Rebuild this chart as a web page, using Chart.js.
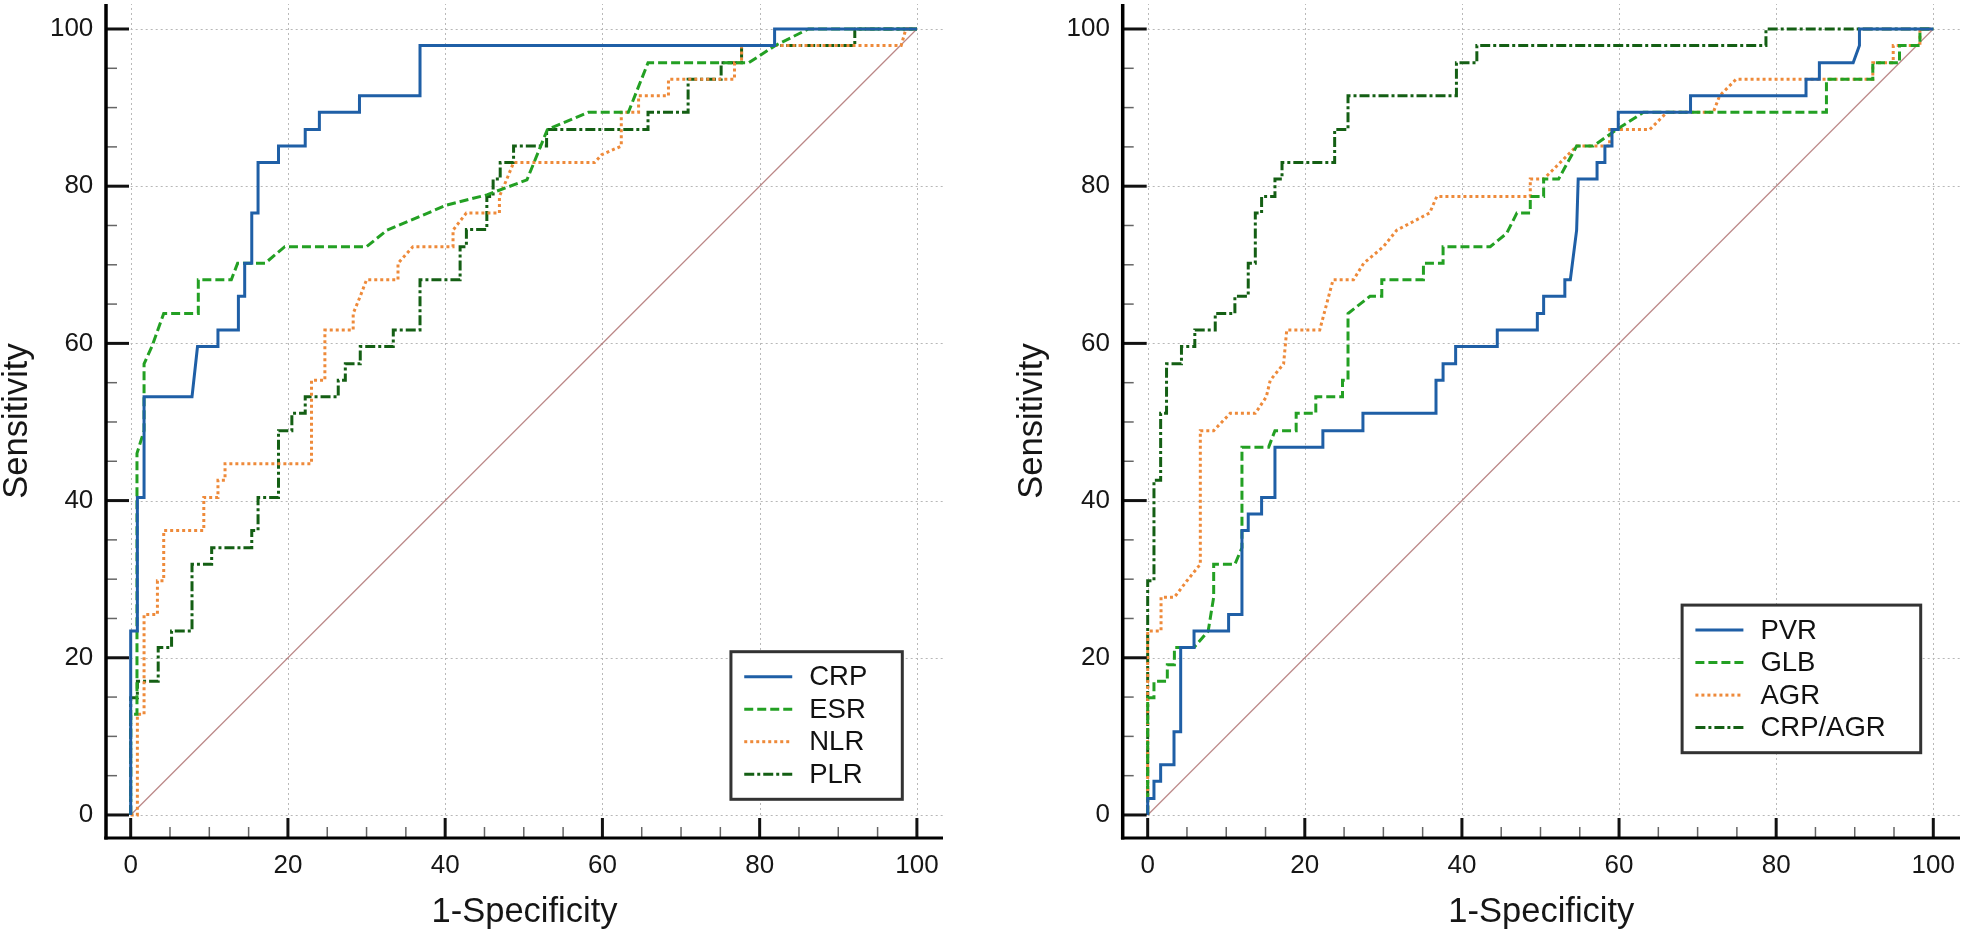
<!DOCTYPE html>
<html><head><meta charset="utf-8">
<script src="https://cdn.jsdelivr.net/npm/chart.js@4.4.1/dist/chart.umd.min.js"></script>
<style>
html,body{margin:0;padding:0;background:#fff;}
body{width:1962px;height:934px;position:relative;overflow:hidden;}
canvas{position:absolute;top:0;}
#c1{left:0;} #c2{left:981px;}
</style></head><body>
<canvas id="c1" width="981" height="934"></canvas>
<canvas id="c2" width="981" height="934"></canvas>
<script>
// ---------- data ----------
const tickValues = [0, 20, 40, 60, 80, 100];
const xTitle = '1-Specificity';
const yTitle = 'Sensitivity';
const labelsLeft = ['CRP', 'ESR', 'NLR', 'PLR'];
const labelsRight = ['PVR', 'GLB', 'AGR', 'CRP/AGR'];
const DIAG = [[0,0],[100,100]];

const CRP = [[0,0],[0,23.4],[0.85,23.4],[0.85,40.4],[1.7,40.4],[1.7,53.2],[7.8,53.2],[8.5,59.6],[11.1,59.6],[11.1,61.7],[13.7,61.7],[13.7,66.0],[14.5,66.0],[14.5,70.2],[15.4,70.2],[15.4,76.6],[16.2,76.6],[16.2,83.0],[18.8,83.0],[18.8,85.1],[22.2,85.1],[22.2,87.2],[24.0,87.2],[24.0,89.4],[29.1,89.4],[29.1,91.5],[36.8,91.5],[36.8,97.9],[81.9,97.9],[81.9,100],[100,100]];
const ESR = [[0,0],[0,12.8],[0.8,12.8],[0.8,46.0],[1.7,48.9],[1.7,57.4],[2.7,59.6],[4.2,63.8],[8.6,63.8],[8.6,68.1],[12.8,68.1],[13.6,70.2],[17.1,70.2],[19.6,72.3],[30.0,72.3],[32.6,74.4],[40.2,77.6],[45.3,78.9],[50.4,80.8],[53.0,87.2],[58.2,89.4],[63.3,89.4],[65.8,95.7],[78.6,95.7],[82.0,97.9],[86.2,100],[100,100]];
const NLR = [[0,0],[0.85,0],[0.85,12.8],[1.7,12.8],[1.7,25.5],[3.4,25.5],[3.4,29.8],[4.2,29.8],[4.2,36.2],[9.3,36.2],[9.3,40.4],[11.1,40.4],[11.1,42.6],[12.0,42.6],[12.0,44.7],[23.0,44.7],[23.0,55.3],[24.7,55.3],[24.7,61.7],[28.3,61.7],[28.3,63.8],[29.2,66.0],[30.0,68.1],[34.0,68.1],[34.0,70.2],[35.9,72.3],[41.0,72.3],[41.0,74.4],[42.7,76.6],[46.9,76.6],[46.9,78.7],[47.8,80.8],[48.7,83.0],[59.0,83.0],[59.9,84.0],[62.4,85.1],[62.4,89.4],[64.6,89.4],[64.6,91.5],[68.4,91.5],[68.4,93.6],[76.8,93.6],[76.8,95.7],[77.7,95.7],[77.7,97.9],[98.0,97.9],[98.6,100],[100,100]];
const PLR = [[0,0],[0,14.9],[0.85,14.9],[0.85,17.0],[3.5,17.0],[3.5,21.3],[5.2,21.3],[5.2,23.4],[7.8,23.4],[7.8,31.9],[10.3,31.9],[10.3,34.0],[15.4,34.0],[15.4,36.2],[16.2,36.2],[16.2,40.4],[18.8,40.4],[18.8,48.9],[20.5,48.9],[20.5,51.1],[22.2,51.1],[22.2,53.2],[26.4,53.2],[26.4,55.3],[27.3,55.3],[27.3,57.4],[29.2,57.4],[29.2,59.6],[33.4,59.6],[33.4,61.7],[36.8,61.7],[36.8,68.1],[41.9,68.1],[41.9,72.3],[42.7,72.3],[42.7,74.5],[45.3,74.5],[45.3,78.7],[46.1,78.7],[46.1,80.9],[47.0,80.9],[47.0,83.0],[48.7,83.0],[48.7,85.1],[52.9,85.1],[52.9,87.2],[65.8,87.2],[65.8,89.4],[70.9,89.4],[70.9,93.6],[75.1,93.6],[75.1,95.7],[77.7,95.7],[77.7,97.9],[92.1,97.9],[92.1,100],[100,100]];

const PVR = [[0,0],[0,2.1],[0.8,2.1],[0.8,4.3],[1.65,4.3],[1.65,6.4],[3.35,6.4],[3.35,10.6],[4.2,10.6],[4.2,21.3],[5.9,21.3],[5.9,23.4],[10.3,23.4],[10.3,25.5],[12.0,25.5],[12.0,36.2],[12.8,36.2],[12.8,38.3],[14.5,38.3],[14.5,40.4],[16.2,40.4],[16.2,46.8],[22.3,46.8],[22.3,48.9],[27.4,48.9],[27.4,51.1],[36.7,51.1],[36.7,55.3],[37.6,55.3],[37.6,57.4],[39.2,57.4],[39.2,59.6],[44.5,59.6],[44.5,61.7],[49.6,61.7],[49.6,63.8],[50.4,63.8],[50.4,66.0],[53.1,66.0],[53.1,68.1],[53.8,68.1],[54.6,74.4],[54.8,80.9],[57.2,80.9],[57.2,83.0],[58.2,83.0],[58.2,85.1],[59.1,85.1],[59.1,87.2],[59.9,87.2],[59.9,89.4],[69.1,89.4],[69.1,91.5],[83.8,91.5],[83.8,93.6],[85.5,93.6],[85.5,95.7],[89.8,95.7],[90.6,97.9],[90.6,100],[100,100]];
const GLB = [[0,0],[0,14.9],[0.8,14.9],[0.8,17.0],[2.5,17.0],[2.5,19.1],[3.4,19.1],[3.4,21.3],[5.9,21.3],[7.7,23.4],[8.4,27.7],[8.4,31.9],[11.1,31.9],[12.0,34.0],[12.0,46.8],[15.4,46.8],[16.2,48.9],[18.9,48.9],[18.9,51.1],[21.4,51.1],[21.4,53.2],[24.8,53.2],[24.8,55.3],[25.5,55.3],[25.5,63.8],[28.3,66.0],[29.8,66.0],[29.8,68.1],[35.1,68.1],[35.1,70.2],[37.6,70.2],[37.6,72.3],[43.6,72.3],[45.7,74.0],[47.0,76.6],[48.7,76.6],[48.7,78.7],[50.4,78.7],[50.4,80.9],[52.3,80.9],[54.6,85.1],[56.7,85.1],[59.7,87.2],[63.1,89.4],[86.4,89.4],[86.4,93.6],[92.3,93.6],[92.3,95.7],[95.7,95.7],[95.7,97.9],[98.3,97.9],[98.3,100],[100,100]];
const AGR = [[0,0],[0,23.4],[1.7,23.4],[1.7,27.7],[3.4,27.7],[5.0,29.8],[6.7,31.9],[6.7,48.9],[8.4,48.9],[10.5,51.1],[13.7,51.1],[15.1,53.2],[15.6,55.3],[17.3,57.4],[17.7,61.7],[21.9,61.7],[23.6,68.1],[26.2,68.1],[27.5,70.2],[30.0,72.3],[31.7,74.4],[35.9,76.6],[36.8,78.7],[48.7,78.7],[48.7,80.9],[50.4,80.9],[54.6,85.1],[58.8,85.1],[58.8,87.2],[63.9,87.2],[66.1,89.4],[72.0,89.4],[72.8,91.5],[74.9,93.6],[92.3,93.6],[92.3,95.7],[94.9,95.7],[94.9,97.9],[98.3,97.9],[98.3,100],[100,100]];
const CRPAGR = [[0,0],[0,29.8],[0.8,29.8],[0.8,42.6],[1.65,42.6],[1.65,51.1],[2.4,51.1],[2.4,57.4],[4.3,57.4],[4.3,59.6],[6.0,59.6],[6.0,61.7],[8.6,61.7],[8.6,63.8],[11.1,63.8],[11.1,66.0],[12.8,66.0],[12.8,70.2],[13.7,70.2],[13.7,76.6],[14.5,76.6],[14.5,78.7],[16.2,78.7],[16.2,80.9],[17.1,80.9],[17.1,83.0],[23.8,83.0],[23.8,87.2],[25.5,87.2],[25.5,91.5],[39.3,91.5],[39.3,95.7],[41.9,95.7],[41.9,97.9],[78.7,97.9],[78.7,100],[100,100]];

// ---------- styles ----------
const FONT = '"Liberation Sans", Arial, Helvetica, sans-serif';
const STYLES = [
  {color: '#1f5fa6', dash: []},
  {color: '#23a023', dash: [9, 4]},
  {color: '#ee8a3a', dash: [3, 3]},
  {color: '#145f14', dash: [10, 3, 3, 3]}
];
const DIAG_COLOR = 'rgba(170,105,105,0.8)';

const framePlugin = {
  id: 'frame',
  beforeDatasetsDraw(chart) {
    const {ctx, chartArea: a, scales: {x, y}} = chart;
    const x0 = x.getPixelForValue(0), y0 = y.getPixelForValue(0);
    ctx.save();
    ctx.strokeStyle = '#b8b8b8'; ctx.lineWidth = 1; ctx.setLineDash([2, 3]);
    tickValues.forEach(v => {
      const px = Math.round(x.getPixelForValue(v)) + 0.5;
      ctx.beginPath(); ctx.moveTo(px, y0); ctx.lineTo(px, a.top); ctx.stroke();
      const py = Math.round(y.getPixelForValue(v)) + 0.5;
      ctx.beginPath(); ctx.moveTo(x0, py); ctx.lineTo(a.right, py); ctx.stroke();
    });
    ctx.restore();
  },
  afterDatasetsDraw(chart, args, opts) {
    const {ctx, chartArea: a, scales: {x, y}} = chart;
    ctx.save();
    ctx.setLineDash([]);
    // minor + major ticks
    for (let v = 0; v <= 100; v += 5) {
      const major = v % 20 === 0;
      ctx.strokeStyle = major ? '#111' : '#666';
      ctx.lineWidth = major ? 3 : 1.5;
      const py = y.getPixelForValue(v);
      ctx.beginPath(); ctx.moveTo(a.left, py); ctx.lineTo(a.left + (major ? opts.yMajor : 11), py); ctx.stroke();
      const px = x.getPixelForValue(v);
      ctx.beginPath(); ctx.moveTo(px, a.bottom); ctx.lineTo(px, a.bottom - (major ? 20 : 11)); ctx.stroke();
    }
    // axis lines
    ctx.strokeStyle = '#000';
    ctx.lineWidth = 3.5;
    ctx.beginPath(); ctx.moveTo(a.left, a.top); ctx.lineTo(a.left, a.bottom + 1.5); ctx.stroke();
    ctx.lineWidth = 3;
    ctx.beginPath(); ctx.moveTo(a.left - 1.75, a.bottom); ctx.lineTo(a.right, a.bottom); ctx.stroke();
    // legend box
    const items = chart.data.datasets.filter(d => !d.isRef);
    ctx.font = '27.5px ' + FONT;
    const tw = Math.max(...items.map(d => ctx.measureText(d.label).width));
    const w = 13.3 + 48 + 17 + tw + 35, h = 147.6;
    const right = a.right - opts.legendRight, bottom = a.bottom - opts.legendBottom;
    const left = right - w, top = bottom - h;
    ctx.fillStyle = '#fff'; ctx.fillRect(left, top, w, h);
    ctx.strokeStyle = '#333'; ctx.lineWidth = 3; ctx.strokeRect(left, top, w, h);
    items.forEach((d, i) => {
      const cy = top + 25 + i * 32.5;
      ctx.setLineDash(d.borderDash || []);
      ctx.strokeStyle = d.borderColor; ctx.lineWidth = 3; ctx.lineCap = 'butt';
      ctx.beginPath(); ctx.moveTo(left + 13.3, cy); ctx.lineTo(left + 61.3, cy); ctx.stroke();
      ctx.setLineDash([]);
      ctx.fillStyle = '#111'; ctx.textBaseline = 'middle'; ctx.textAlign = 'left';
      ctx.fillText(d.label, left + 78.3, cy + 1);
    });
    ctx.restore();
  }
};

function makeChart(id, series, labels, geo) {
  const datasets = series.map((s, i) => ({
    label: labels[i],
    data: s.map(p => ({x: p[0], y: p[1]})),
    borderColor: STYLES[i].color,
    borderDash: STYLES[i].dash,
    borderWidth: 3,
    borderCapStyle: 'butt',
    borderJoinStyle: 'miter',
    pointRadius: 0,
    tension: 0,
    fill: false
  }));
  datasets.push({
    label: 'reference', isRef: true,
    data: DIAG.map(p => ({x: p[0], y: p[1]})),
    borderColor: DIAG_COLOR, borderWidth: 1.2, pointRadius: 0, tension: 0, fill: false
  });
  const tickFont = {family: FONT, size: 26};
  const titleFont = {family: FONT, size: 34.5, lineHeight: 1};
  return new Chart(document.getElementById(id), {
    type: 'line',
    data: {datasets},
    options: {
      responsive: false, animation: false, devicePixelRatio: 1,
      layout: {padding: {left: geo.padL, top: 4, right: geo.padR, bottom: 4}},
      plugins: {
        legend: {display: false}, tooltip: {enabled: false},
        frame: {legendRight: geo.legRight, legendBottom: geo.legBottom, yMajor: geo.yMajor}
      },
      scales: {
        x: {
          type: 'linear', min: geo.xmin, max: geo.xmax,
          afterBuildTicks: s => { s.ticks = tickValues.map(v => ({value: v})); },
          afterFit: s => { s.height = 92; s.paddingLeft = 0; s.paddingRight = 0; },
          grid: {display: false, drawTicks: false}, border: {display: false},
          ticks: {font: tickFont, color: '#161616', padding: 12, maxRotation: 0, autoSkip: false},
          title: {display: true, text: xTitle, font: titleFont, color: '#161616', padding: 0}
        },
        y: {
          type: 'linear', min: -2.93, max: 103.18,
          afterBuildTicks: s => { s.ticks = tickValues.map(v => ({value: v})); },
          afterFit: s => { s.width = geo.yw; s.paddingTop = 0; s.paddingBottom = 0; },
          grid: {display: false, drawTicks: false}, border: {display: false},
          ticks: {font: tickFont, color: '#161616', padding: 12.7, autoSkip: false},
          title: {display: true, text: yTitle, font: titleFont, color: '#161616', padding: 0}
        }
      }
    },
    plugins: [framePlugin]
  });
}

makeChart('c1', [CRP, ESR, NLR, PLR], labelsLeft,
  {padL: 0, padR: 38, yw: 106, xmin: -3.14, xmax: 103.32, legRight: 40.7, legBottom: 38.7, yMajor: 23});
makeChart('c2', [PVR, GLB, AGR, CRPAGR], labelsRight,
  {padL: 34.5, padR: 2, yw: 107.2, xmin: -3.18, xmax: 103.4, legRight: 39.3, legBottom: 85.3, yMajor: 24});
</script>
</body></html>
